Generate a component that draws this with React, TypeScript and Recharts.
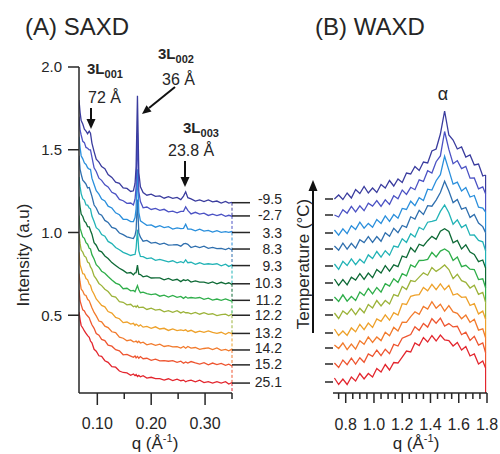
import React from 'react';
import { LineChart, Line, XAxis, YAxis, ReferenceLine } from 'recharts';

const FONT = '"Liberation Sans", Arial, sans-serif';
const INK = '#262626';

// one curve per temperature, top to bottom
const temperatures = ['-9.5', '-2.7', '3.3', '8.3', '9.3', '10.3', '11.2', '12.2', '13.2', '14.2', '15.2', '25.1'];
const curveColors = ['#3a3c9e', '#4b52c4', '#2a8fdc', '#2f6fae', '#22b3b6', '#0e6a36', '#2fae4a', '#9cb33a', '#eea12a', '#f27a2c', '#ee5530', '#e3262e'];

// ---- (A) SAXD ----
const saxdQ = [0.066, 0.068, 0.070, 0.073, 0.076, 0.079, 0.082, 0.085, 0.0873, 0.090, 0.094, 0.098, 0.103, 0.108, 0.114, 0.120, 0.127, 0.134, 0.141, 0.148, 0.155, 0.162, 0.167, 0.170, 0.172, 0.1745, 0.177, 0.180, 0.185, 0.192, 0.200, 0.208, 0.216, 0.224, 0.232, 0.240, 0.248, 0.255, 0.260, 0.264, 0.268, 0.274, 0.282, 0.290, 0.298, 0.306, 0.314, 0.322, 0.330, 0.338, 0.344, 0.350];

const saxdMinus9_5 = [1.800, 1.726, 1.676, 1.655, 1.624, 1.613, 1.597, 1.612, 1.600, 1.540, 1.489, 1.443, 1.425, 1.398, 1.386, 1.350, 1.333, 1.304, 1.297, 1.269, 1.266, 1.248, 1.252, 1.296, 1.397, 1.826, 1.362, 1.276, 1.241, 1.225, 1.232, 1.218, 1.221, 1.207, 1.216, 1.206, 1.212, 1.199, 1.220, 1.246, 1.210, 1.203, 1.190, 1.197, 1.187, 1.197, 1.185, 1.190, 1.178, 1.188, 1.178, 1.182];
const saxdMinus2_7 = [1.701, 1.618, 1.589, 1.551, 1.543, 1.514, 1.509, 1.499, 1.499, 1.455, 1.391, 1.369, 1.328, 1.315, 1.288, 1.275, 1.243, 1.232, 1.200, 1.192, 1.176, 1.178, 1.166, 1.201, 1.275, 1.604, 1.248, 1.187, 1.149, 1.154, 1.139, 1.145, 1.134, 1.140, 1.125, 1.129, 1.119, 1.128, 1.128, 1.155, 1.134, 1.112, 1.122, 1.111, 1.117, 1.103, 1.111, 1.102, 1.110, 1.098, 1.104, 1.098];
const saxd3_3 = [1.579, 1.513, 1.464, 1.445, 1.420, 1.411, 1.391, 1.383, 1.382, 1.328, 1.290, 1.252, 1.232, 1.202, 1.191, 1.159, 1.148, 1.119, 1.107, 1.080, 1.079, 1.066, 1.066, 1.090, 1.143, 1.382, 1.122, 1.070, 1.059, 1.043, 1.046, 1.032, 1.041, 1.030, 1.035, 1.021, 1.028, 1.023, 1.025, 1.050, 1.021, 1.020, 1.010, 1.020, 1.008, 1.013, 1.002, 1.011, 1.001, 1.005, 1.001, 1.006];
const saxd8_3 = [1.464, 1.383, 1.353, 1.316, 1.305, 1.292, 1.269, 1.272, 1.248, 1.218, 1.166, 1.148, 1.113, 1.104, 1.073, 1.061, 1.031, 1.023, 0.997, 0.987, 0.974, 0.967, 0.963, 0.983, 1.015, 1.199, 0.998, 0.972, 0.947, 0.952, 0.936, 0.940, 0.928, 0.936, 0.924, 0.925, 0.927, 0.917, 0.931, 0.934, 0.928, 0.909, 0.917, 0.909, 0.917, 0.904, 0.910, 0.903, 0.904, 0.897, 0.905, 0.895];
const saxd9_3 = [1.336, 1.277, 1.235, 1.204, 1.196, 1.167, 1.165, 1.148, 1.143, 1.099, 1.066, 1.029, 1.016, 0.988, 0.978, 0.946, 0.933, 0.909, 0.896, 0.880, 0.871, 0.861, 0.866, 0.867, 0.904, 1.017, 0.889, 0.855, 0.854, 0.842, 0.846, 0.832, 0.837, 0.830, 0.823, 0.829, 0.817, 0.824, 0.817, 0.835, 0.817, 0.820, 0.808, 0.817, 0.807, 0.811, 0.807, 0.811, 0.799, 0.808, 0.795, 0.803];
const saxd10_3 = [1.217, 1.154, 1.111, 1.097, 1.068, 1.058, 1.035, 1.034, 1.012, 0.990, 0.939, 0.923, 0.890, 0.883, 0.858, 0.843, 0.818, 0.801, 0.784, 0.771, 0.755, 0.758, 0.744, 0.756, 0.757, 0.803, 0.748, 0.746, 0.732, 0.738, 0.725, 0.726, 0.726, 0.714, 0.722, 0.711, 0.717, 0.703, 0.714, 0.709, 0.715, 0.700, 0.707, 0.700, 0.700, 0.693, 0.701, 0.690, 0.699, 0.690, 0.696, 0.686];
const saxd11_2 = [1.102, 1.026, 1.005, 0.973, 0.965, 0.938, 0.929, 0.904, 0.900, 0.866, 0.840, 0.805, 0.789, 0.766, 0.754, 0.734, 0.713, 0.694, 0.685, 0.660, 0.663, 0.647, 0.650, 0.642, 0.659, 0.679, 0.654, 0.636, 0.640, 0.631, 0.624, 0.629, 0.615, 0.621, 0.610, 0.620, 0.608, 0.614, 0.602, 0.612, 0.603, 0.607, 0.603, 0.607, 0.596, 0.603, 0.591, 0.598, 0.590, 0.599, 0.591, 0.585];
const saxd12_2 = [0.991, 0.934, 0.894, 0.881, 0.857, 0.850, 0.821, 0.815, 0.792, 0.778, 0.738, 0.720, 0.692, 0.679, 0.657, 0.643, 0.615, 0.609, 0.582, 0.578, 0.563, 0.566, 0.551, 0.556, 0.548, 0.558, 0.546, 0.548, 0.549, 0.535, 0.543, 0.531, 0.535, 0.520, 0.528, 0.518, 0.527, 0.514, 0.521, 0.515, 0.516, 0.508, 0.517, 0.506, 0.516, 0.505, 0.509, 0.498, 0.503, 0.507, 0.497, 0.507];
const saxd13_2 = [0.880, 0.806, 0.783, 0.751, 0.748, 0.722, 0.714, 0.688, 0.681, 0.651, 0.627, 0.598, 0.579, 0.559, 0.551, 0.522, 0.513, 0.487, 0.479, 0.455, 0.459, 0.446, 0.451, 0.438, 0.446, 0.441, 0.434, 0.442, 0.428, 0.432, 0.421, 0.430, 0.417, 0.421, 0.408, 0.417, 0.407, 0.411, 0.407, 0.412, 0.402, 0.409, 0.396, 0.404, 0.396, 0.405, 0.396, 0.390, 0.397, 0.385, 0.396, 0.388];
const saxd14_2 = [0.752, 0.701, 0.658, 0.646, 0.624, 0.619, 0.596, 0.587, 0.568, 0.545, 0.517, 0.496, 0.465, 0.460, 0.434, 0.425, 0.400, 0.395, 0.368, 0.361, 0.346, 0.351, 0.339, 0.341, 0.344, 0.335, 0.343, 0.332, 0.337, 0.321, 0.328, 0.318, 0.325, 0.311, 0.316, 0.309, 0.310, 0.302, 0.311, 0.301, 0.311, 0.301, 0.305, 0.294, 0.299, 0.303, 0.292, 0.302, 0.288, 0.294, 0.285, 0.295];
const saxd15_2 = [0.653, 0.586, 0.564, 0.532, 0.526, 0.506, 0.495, 0.484, 0.463, 0.442, 0.421, 0.389, 0.379, 0.354, 0.347, 0.319, 0.313, 0.292, 0.285, 0.261, 0.263, 0.253, 0.246, 0.254, 0.242, 0.251, 0.240, 0.250, 0.237, 0.240, 0.227, 0.235, 0.224, 0.226, 0.222, 0.226, 0.215, 0.222, 0.210, 0.218, 0.211, 0.220, 0.212, 0.205, 0.213, 0.200, 0.211, 0.202, 0.209, 0.197, 0.204, 0.194];
const saxd25_1 = [0.520, 0.474, 0.438, 0.423, 0.405, 0.391, 0.377, 0.366, 0.344, 0.333, 0.294, 0.283, 0.255, 0.251, 0.225, 0.215, 0.189, 0.186, 0.163, 0.154, 0.151, 0.137, 0.145, 0.135, 0.142, 0.129, 0.136, 0.128, 0.135, 0.120, 0.125, 0.117, 0.117, 0.108, 0.116, 0.105, 0.114, 0.104, 0.108, 0.098, 0.104, 0.108, 0.097, 0.107, 0.093, 0.099, 0.090, 0.099, 0.090, 0.098, 0.084, 0.093];

const saxdCurves = [saxdMinus9_5, saxdMinus2_7, saxd3_3, saxd8_3, saxd9_3, saxd10_3, saxd11_2, saxd12_2, saxd13_2, saxd14_2, saxd15_2, saxd25_1];
// level of each curve at the right edge, where the right-hand ticks sit
const saxdEnds = [1.18, 1.10, 1.00, 0.90, 0.80, 0.69, 0.59, 0.50, 0.39, 0.29, 0.20, 0.09];
const saxdYTicks = [0.5, 1.0, 1.5, 2.0];
const saxdXTicks = [0.10, 0.15, 0.20, 0.25, 0.30, 0.35];

// ---- (B) WAXD ----
const waxdQ = [0.72, 0.75, 0.78, 0.81, 0.84, 0.87, 0.90, 0.93, 0.96, 0.99, 1.02, 1.05, 1.08, 1.11, 1.14, 1.17, 1.20, 1.23, 1.26, 1.29, 1.32, 1.35, 1.38, 1.41, 1.44, 1.47, 1.50, 1.53, 1.56, 1.59, 1.62, 1.65, 1.68, 1.71, 1.74, 1.77, 1.79];

const waxdMinus9_5 = [19.4, 19.8, 19.35, 20.0, 19.5, 20.35, 19.95, 20.65, 20.0, 20.5, 20.05, 20.85, 20.5, 21.25, 20.7, 21.4, 21.05, 22.0, 21.9, 22.65, 22.25, 23.1, 23.0, 24.2, 24.4, 25.9, 28.2, 25.8, 25.3, 24.4, 24.6, 23.6, 23.8, 22.8, 22.9, 21.7, 21.8];
const waxdMinus2_7 = [17.8, 17.6, 18.33, 17.98, 18.67, 18.12, 18.72, 18.23, 18.99, 18.69, 19.25, 18.66, 19.31, 18.86, 19.72, 19.43, 20.3, 19.86, 20.57, 20.33, 21.32, 21.16, 22.23, 22.0, 23.13, 23.71, 26.15, 24.36, 22.93, 23.24, 22.44, 22.66, 21.48, 21.5, 20.41, 20.62, 19.92];
const waxd3_3 = [16.3, 15.79, 16.41, 15.94, 16.73, 16.36, 17.08, 16.49, 16.96, 16.58, 17.35, 16.96, 17.71, 17.16, 17.84, 17.48, 18.46, 18.35, 19.18, 18.74, 19.53, 19.24, 20.38, 20.29, 21.23, 21.83, 23.68, 22.29, 20.88, 21.09, 20.2, 20.54, 19.6, 19.75, 18.58, 18.5, 18.1];
const waxd8_3 = [14.7, 14.28, 14.98, 14.39, 14.97, 14.49, 15.32, 15.04, 15.63, 15.06, 15.65, 15.17, 16.02, 15.67, 16.47, 16.04, 16.75, 16.57, 17.62, 17.39, 18.27, 17.85, 18.74, 18.68, 19.29, 20.05, 21.18, 20.2, 19.04, 19.36, 18.38, 18.55, 17.56, 17.85, 17.0, 16.64, 16.04];
const waxd9_3 = [12.9, 12.37, 13.16, 12.75, 13.42, 12.84, 13.37, 13.0, 13.81, 13.44, 14.15, 13.58, 14.23, 13.78, 14.69, 14.58, 15.42, 15.06, 15.92, 15.6, 16.57, 16.33, 17.08, 17.17, 17.28, 18.16, 18.8, 18.03, 16.88, 17.31, 16.54, 16.83, 15.78, 15.8, 15.26, 15.12, 14.22];
const waxd10_3 = [11.4, 10.76, 11.34, 10.81, 11.58, 11.29, 11.93, 11.36, 11.99, 11.53, 12.35, 11.99, 12.74, 12.19, 12.81, 12.63, 13.69, 13.55, 14.53, 14.11, 14.88, 14.71, 15.23, 15.66, 15.38, 16.18, 16.43, 16.16, 15.03, 15.26, 14.4, 14.81, 14.1, 13.85, 13.13, 13.3, 12.5];
const waxd11_2 = [9.6, 9.16, 9.82, 9.19, 9.65, 9.25, 10.1, 9.74, 10.47, 9.92, 10.55, 10.09, 10.94, 10.69, 11.43, 11.06, 11.93, 11.71, 12.8, 12.59, 13.25, 13.27, 13.36, 14.06, 13.61, 14.19, 14.4, 14.12, 13.26, 13.6, 12.64, 12.77, 12.38, 12.35, 11.34, 11.42, 10.52];
const waxd12_2 = [8.0, 7.45, 8.21, 7.87, 8.42, 7.83, 8.47, 8.02, 8.86, 8.51, 9.25, 8.7, 9.25, 8.9, 9.84, 9.68, 10.66, 10.35, 11.24, 11.14, 11.59, 12.01, 11.78, 12.55, 12.16, 12.45, 12.8, 12.35, 11.44, 11.88, 11.23, 11.07, 10.5, 10.78, 9.87, 10.06, 9.06];
const waxd13_2 = [6.4, 5.75, 6.2, 5.76, 6.51, 6.12, 6.87, 6.33, 6.99, 6.55, 7.4, 7.16, 7.82, 7.28, 8.04, 7.8, 8.93, 8.85, 9.67, 9.78, 9.84, 10.55, 10.22, 10.87, 10.33, 10.92, 10.32, 10.76, 9.8, 9.93, 9.57, 9.61, 8.75, 8.93, 7.91, 8.19, 7.38];
const waxd14_2 = [4.8, 4.45, 5.0, 4.34, 4.89, 4.39, 5.23, 4.87, 5.61, 5.06, 5.6, 5.24, 6.08, 5.73, 6.56, 6.2, 7.08, 7.06, 7.64, 8.12, 7.86, 8.65, 8.39, 9.13, 8.48, 8.88, 8.19, 8.74, 8.11, 7.97, 7.43, 7.79, 7.06, 7.37, 6.29, 6.41, 5.53];
const waxd15_2 = [3.0, 2.55, 3.3, 2.84, 3.49, 2.89, 3.53, 3.07, 3.91, 3.66, 4.3, 3.74, 4.38, 3.93, 4.86, 4.7, 5.48, 5.66, 5.84, 6.62, 6.26, 6.95, 6.59, 7.43, 6.98, 7.48, 6.69, 6.94, 6.61, 6.67, 5.83, 6.09, 5.26, 5.67, 4.79, 5.01, 4.03];
const waxd25_1 = [1.5, 0.85, 1.4, 0.85, 1.6, 1.2, 1.95, 1.4, 1.95, 1.6, 2.45, 2.1, 2.85, 2.3, 3.05, 3.0, 3.6, 4.2, 4.1, 5.0, 4.75, 5.55, 5.1, 5.75, 5.2, 5.8, 5.3, 5.25, 4.7, 5.05, 4.3, 4.65, 3.7, 3.9, 2.9, 3.2, 2.5];

const waxdCurves = [waxdMinus9_5, waxdMinus2_7, waxd3_3, waxd8_3, waxd9_3, waxd10_3, waxd11_2, waxd12_2, waxd13_2, waxd14_2, waxd15_2, waxd25_1];
// level of each curve at the left edge, where the temperature labels sit
const waxdStarts = [19.4, 17.8, 16.0, 14.4, 12.7, 11.0, 9.3, 7.8, 6.0, 4.5, 2.9, 1.1];
const waxdXTicks = [0.75, 0.8, 0.85, 0.9, 0.95, 1.0, 1.05, 1.1, 1.15, 1.2, 1.25, 1.3, 1.35, 1.4, 1.45, 1.5, 1.55, 1.6, 1.65, 1.7, 1.75, 1.8];

const toRows = (qs: number[], curves: number[][]) =>
  qs.map((q, i) => {
    const row: Record<string, number> = { q };
    curves.forEach((c, k) => {
      row['t' + k] = c[i];
    });
    return row;
  });

const saxdRows = toRows(saxdQ, saxdCurves);
const waxdRows = toRows(waxdQ, waxdCurves);
const drawOrder = curveColors.map((_, k) => k).reverse();

const SaxdXTick = (props: any) => {
  const { x, y, payload } = props;
  const v = payload.value;
  const major = Math.abs(v * 10 - Math.round(v * 10)) < 1e-6;
  return (
    <g>
      <line x1={x} x2={x} y1={y} y2={y + (major ? 12 : 6)} stroke={INK} strokeWidth={1.5} />
      {major && (
        <text x={x} y={y + 36} textAnchor="middle" fontSize={16} fontFamily={FONT} fill={INK}>
          {v.toFixed(2)}
        </text>
      )}
    </g>
  );
};

const WaxdXTick = (props: any) => {
  const { x, y, payload } = props;
  const v = payload.value;
  const major = Math.abs(v * 5 - Math.round(v * 5)) < 1e-6;
  return (
    <g>
      <line x1={x} x2={x} y1={y} y2={y + (major ? 10 : 6)} stroke={INK} strokeWidth={1.5} />
      {major && (
        <text x={x} y={y + 37} textAnchor="middle" fontSize={16} fontFamily={FONT} fill={INK}>
          {v.toFixed(1)}
        </text>
      )}
    </g>
  );
};

const SaxdRightTick = (props: any) => {
  const { x, y } = props;
  return <line x1={x} x2={x + 18} y1={y} y2={y} stroke={INK} strokeWidth={1.5} />;
};

const WaxdYTick = (props: any) => {
  const { x, y, payload } = props;
  const label = temperatures[waxdStarts.indexOf(payload.value)];
  return (
    <g>
      <line x1={x - 8} x2={x} y1={y} y2={y} stroke={INK} strokeWidth={1.5} />
      <text x={x - 51} y={y} dy="0.36em" textAnchor="end" fontSize={14} fontFamily={FONT} fill={INK}>
        {label}
      </text>
    </g>
  );
};

const Overlay = () => (
  <svg width={500} height={454} style={{ position: 'absolute', left: 0, top: 0, pointerEvents: 'none' }}>
    <g fontFamily={FONT} fill={INK}>
      <text x={25} y={35} fontSize={24}>(A) SAXD</text>
      <text x={315} y={35} fontSize={24}>(B) WAXD</text>

      <text x={87} y={74} fontSize={15} fontWeight="bold">3L<tspan dy={4} fontSize={11}>001</tspan></text>
      <text x={88} y={103} fontSize={16}>72 Å</text>
      <text x={158} y={59} fontSize={15} fontWeight="bold">3L<tspan dy={4} fontSize={11}>002</tspan></text>
      <text x={162} y={85} fontSize={16}>36 Å</text>
      <text x={183} y={133} fontSize={15} fontWeight="bold">3L<tspan dy={4} fontSize={11}>003</tspan></text>
      <text x={168} y={156} fontSize={16}>23.8 Å</text>
      <text x={443} y={100} fontSize={18} textAnchor="middle">α</text>

      <text transform="translate(29,255) rotate(-90)" textAnchor="middle" fontSize={17}>Intensity (a.u)</text>
      <text transform="translate(309,264) rotate(-90)" textAnchor="middle" fontSize={17}>Temperature (°C)</text>

      <text x={155} y={449} textAnchor="middle" fontSize={17}>
        q (Å<tspan dy={-7} fontSize={11}>-1</tspan><tspan dy={7}>)</tspan>
      </text>
      <text x={416} y={449} textAnchor="middle" fontSize={17}>
        q (Å<tspan dy={-7} fontSize={11}>-1</tspan><tspan dy={7}>)</tspan>
      </text>
    </g>
    <g stroke="#111" strokeWidth={2} fill="#111">
      <line x1={91} y1={108} x2={91} y2={121} />
      <path d="M91,129 L86.5,119 L95.5,119 Z" stroke="none" />
      <line x1={175} y1={87} x2={149} y2={108} />
      <path d="M142,114 L151.5,111.4 L146.5,105.2 Z" stroke="none" />
      <line x1={185} y1={161} x2={185} y2={178} />
      <path d="M185,187 L180.5,177 L189.5,177 Z" stroke="none" />
      <line x1={313} y1={333} x2={313} y2={190} />
      <path d="M313,180 L308.5,191 L317.5,191 Z" stroke="none" />
    </g>
  </svg>
);

export default function App() {
  return (
    <div style={{ position: 'absolute', left: 0, top: 0, width: 500, height: 454, background: '#fff', overflow: 'hidden' }}>
      <div style={{ position: 'absolute', left: 0, top: 0 }}>
        <LineChart width={260} height={454} data={saxdRows} margin={{ top: 67, right: 0, bottom: 31, left: 0 }}>
          <XAxis
            dataKey="q"
            type="number"
            domain={[0.066, 0.35]}
            allowDataOverflow
            ticks={saxdXTicks}
            interval={0}
            height={30}
            tickLine={false}
            tickSize={0}
            tickMargin={0}
            tick={(p: any) => <SaxdXTick {...p} />}
            axisLine={{ stroke: INK, strokeWidth: 1.5 }}
          />
          <YAxis
            type="number"
            domain={[0.03, 2.0]}
            allowDataOverflow
            ticks={saxdYTicks}
            interval={0}
            width={79}
            tickSize={11}
            tickMargin={6}
            tickFormatter={(v: number) => v.toFixed(1)}
            tick={{ fill: INK, fontSize: 15, fontFamily: FONT }}
            tickLine={{ stroke: INK, strokeWidth: 1.5 }}
            axisLine={{ stroke: INK, strokeWidth: 1.5 }}
          />
          <YAxis
            yAxisId="ends"
            orientation="right"
            type="number"
            domain={[0.03, 2.0]}
            allowDataOverflow
            ticks={saxdEnds}
            interval={0}
            width={28}
            tickSize={0}
            tickMargin={0}
            tickLine={false}
            axisLine={false}
            tick={(p: any) => <SaxdRightTick {...p} />}
          />
          {saxdEnds.map((v, k) => (
            <ReferenceLine
              key={'re' + k}
              segment={[
                { x: 0.35, y: v },
                { x: 0.35, y: k < saxdEnds.length - 1 ? saxdEnds[k + 1] : 0.03 },
              ]}
              stroke={curveColors[k]}
              strokeDasharray="3 2"
              strokeWidth={1}
              ifOverflow="visible"
            />
          ))}
          {drawOrder.map((k) => (
            <Line
              key={k}
              dataKey={'t' + k}
              stroke={curveColors[k]}
              strokeWidth={1.3}
              dot={false}
              type="linear"
              isAnimationActive={false}
            />
          ))}
        </LineChart>
      </div>
      <div style={{ position: 'absolute', left: 250, top: 0 }}>
        <LineChart width={250} height={454} data={waxdRows} margin={{ top: 67, right: 13, bottom: 31, left: 0 }}>
          <XAxis
            dataKey="q"
            type="number"
            domain={[0.71, 1.8]}
            allowDataOverflow
            ticks={waxdXTicks}
            interval={0}
            height={30}
            tickLine={false}
            tickSize={0}
            tickMargin={0}
            tick={(p: any) => <WaxdXTick {...p} />}
            axisLine={{ stroke: INK, strokeWidth: 1.5 }}
          />
          <YAxis
            type="number"
            domain={[0, 32.6]}
            allowDataOverflow
            ticks={waxdStarts}
            interval={0}
            width={83}
            tickSize={0}
            tickMargin={0}
            tickLine={false}
            axisLine={false}
            tick={(p: any) => <WaxdYTick {...p} />}
          />
          {waxdCurves.map((c, k) => (
            <ReferenceLine
              key={'we' + k}
              segment={[
                { x: 1.79, y: c[c.length - 1] },
                { x: 1.79, y: k < waxdCurves.length - 1 ? waxdCurves[k + 1][c.length - 1] : 0 },
              ]}
              stroke={curveColors[k]}
              strokeWidth={1.2}
              ifOverflow="visible"
            />
          ))}
          {drawOrder.map((k) => (
            <Line
              key={k}
              dataKey={'t' + k}
              stroke={curveColors[k]}
              strokeWidth={1.3}
              dot={false}
              type="linear"
              isAnimationActive={false}
            />
          ))}
        </LineChart>
      </div>
      <Overlay />
    </div>
  );
}
